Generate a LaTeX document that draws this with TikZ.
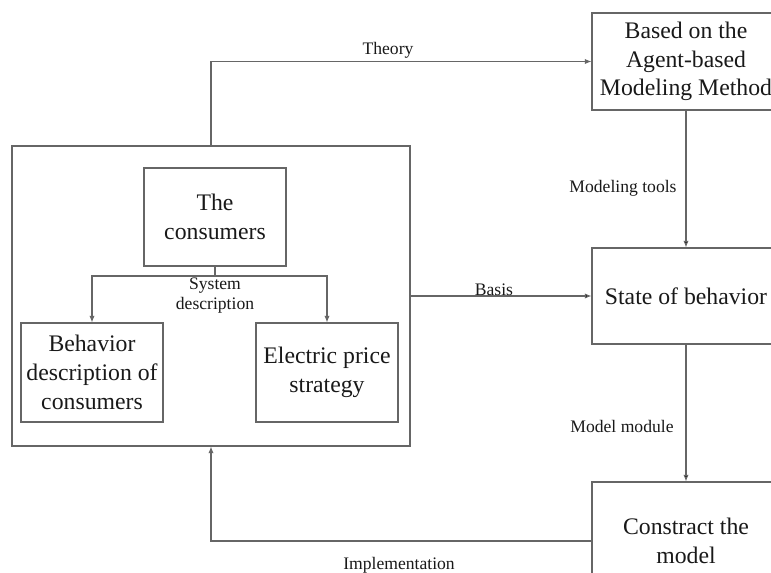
\documentclass[tikz,border=0pt]{standalone}
\usepackage{fontspec}
\setmainfont{Liberation Serif}
\usetikzlibrary{arrows.meta}

\tikzset{
	box/.style={draw=black!60, line width=0.8pt, align=center, inner sep=0pt,
		font=\fontsize{17.8}{21.5}\selectfont, text=black!90},
	link/.style={draw=black!60, line width=0.8pt, -{Latex[length=5pt,width=4pt]}},
	lbl/.style={font=\fontsize{13.2}{15}\selectfont, text=black!90, inner sep=0pt, align=center}
}

\begin{document}
\begin{tikzpicture}[x=0.75pt, y=-0.75pt]

	\clip (0,0) rectangle (771,572);

	% right column
	\node[box, minimum width=141pt, minimum height=72.75pt] (base) at (686,61.5) {Based on the\\Agent-based\\Modeling Method};
	\node[box, minimum width=141pt, minimum height=72pt] (state) at (686,296) {State of behavior};
	\node[box, minimum width=141pt, minimum height=88.5pt] (model) at (686,541) {Constract the\\model};

	% left block
	\node[box, minimum width=298.5pt, minimum height=225pt] (outer) at (211,296) {};
	\node[box, minimum width=106.5pt, minimum height=73.5pt] (cons) at (215,217) {The\\consumers};
	\node[box, minimum width=106.5pt, minimum height=74.25pt] (behav) at (92,372.5) {Behavior\\description of\\consumers};
	\node[box, minimum width=106.5pt, minimum height=74.25pt] (price) at (327,372.5) {Electric price\\strategy};
	\coordinate (split) at (215,276);

	\path[link, -] (cons.south) -- (split);
	\foreach \j in {behav, price}
	{
		\path[link] (split) -| (\j.north);
	};

	\foreach \i / \j in {
	base/state,
	state/model,
	outer/state}
	{
		\path[link] (\i) edge (\j);
	};

	\path[link] (outer.north) |- (base.west);
	\path[link] (model.west) -| (outer.south);

	% labels
	\node[lbl] (theory) at (388,50) {Theory};
	\node[lbl] (basis) at (494,290) {Basis};
	\node[lbl] (tools) at (623,188) {Modeling tools};
	\node[lbl] (module) at (622,426) {Model module};
	\node[lbl] (impl) at (399,565) {Implementation};
	\node[lbl] (sysdesc) at (215,296) {System\\description};

\end{tikzpicture}
\end{document}
